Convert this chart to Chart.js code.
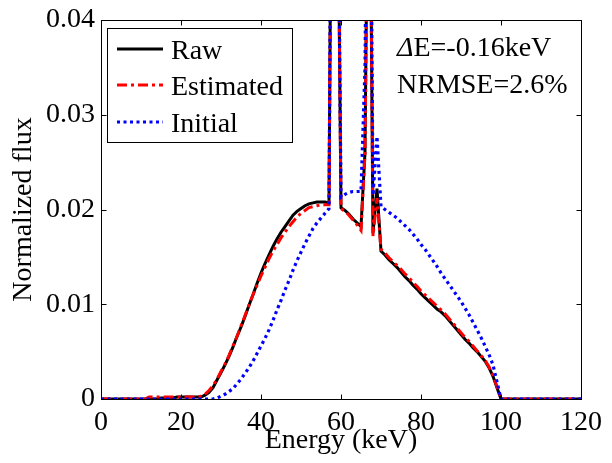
<!DOCTYPE html>
<html><head><meta charset="utf-8">
<script src="https://cdn.jsdelivr.net/npm/chart.js@4.4.1/dist/chart.umd.min.js"></script>
<style>html,body{margin:0;padding:0;background:#fff}#wrap{width:612px;height:463px;position:relative}</style>
</head><body><div id="wrap"><canvas id="c" width="612" height="463"></canvas></div>
<script>
const energies = [0,1,2,3,4,5,6,7,8,9,10,11,12,13,14,15,16,17,18,19,20,21,22,23,24,25,26,27,28,29,30,31,32,33,34,35,36,37,38,39,40,41,42,43,44,45,46,47,48,49,50,51,52,53,54,55,56,57,58,59,60,61,62,63,64,65,66,67,68,69,70,71,72,73,74,75,76,77,78,79,80,81,82,83,84,85,86,87,88,89,90,91,92,93,94,95,96,97,98,99,100,101,102,103,104,105,106,107,108,109,110,111,112,113,114,115,116,117,118,119,120];

const raw = [0,0,0,0,0,0,0,0,0,0,0,0,0,0,0,
  0.0001,0.0001,0.0001,0.0001,0.0002,0.0002,0.0002,0.0002,0.0002,0.0002,
  0.0002,0.0004,0.0007,0.0012,0.0020,0.0028,0.0036,0.0045,0.0055,0.0066,
  0.0076,0.0087,0.0099,0.0110,0.0122,0.0133,0.0143,0.0152,0.0161,0.0169,
  0.0176,0.0182,0.0188,0.0194,0.0198,0.0201,0.0204,0.0206,0.0207,0.0208,
  0.0208,0.0208,0.0207,0.085,0.065,0.0202,0.0199,0.0195,0.0190,0.0186,
  0.0182,0.026,0.07,0.0175,0.0222,0.0156,0.0152,0.0147,0.0143,0.0139,
  0.0134,0.0129,0.0125,0.0120,0.0116,0.0111,0.0107,0.0103,0.0099,0.0095,
  0.0092,0.0088,0.0083,0.0078,0.0073,0.0068,0.0063,0.0059,0.0054,0.0050,
  0.0045,0.0040,0.0033,0.0024,0.0012,
  0,0,0,0,0,0,0,0,0,0,0,0,0,0,0,0,0,0,0,0,0];

const estimated = [0,0,0,0,0,0,0,0,0,0,0,0,
  0.0002,0.0002,0.0002,0.0002,0.0002,0.0002,0.0002,0.0002,0.0002,0.0002,0.0002,0.0002,0.0002,
  0.0003,0.0005,0.0009,0.0014,0.0021,0.0029,0.0037,0.0046,0.0056,0.0066,
  0.0077,0.0088,0.0099,0.0110,0.0120,0.0130,0.0139,0.0148,0.0156,0.0163,
  0.0170,0.0176,0.0182,0.0187,0.0192,0.0196,0.0199,0.0202,0.0203,0.0204,
  0.0205,0.0205,0.0205,0.085,0.065,0.0201,0.0198,0.0194,0.0189,0.0184,
  0.0178,0.026,0.07,0.0172,0.0212,0.0158,0.0154,0.0149,0.0145,0.0141,
  0.0137,0.0132,0.0128,0.0123,0.0119,0.0114,0.0110,0.0106,0.0102,0.0098,
  0.0094,0.0090,0.0085,0.0080,0.0075,0.0070,0.0065,0.0061,0.0056,0.0051,
  0.0046,0.0041,0.0034,0.0025,0.0013,
  0,0,0,0,0,0,0,0,0,0,0,0,0,0,0,0,0,0,0,0,0];

const initial = [0,0,0,0,0,0,0,0,0,0,0,0,0,0,0,0,0,0,0,0,0,0,0,0,0,0,0,0,0,
  0.0001,0.0003,0.0005,0.0008,0.0011,0.0016,0.0021,0.0027,0.0033,0.0040,
  0.0048,0.0056,0.0064,0.0073,0.0083,0.0094,0.0104,0.0115,0.0125,0.0136,
  0.0146,0.0155,0.0164,0.0172,0.0180,0.0186,0.0191,0.0196,0.0201,0.09,
  0.07,0.0213,0.0216,0.0218,0.0219,0.0219,0.0219,0.035,0.08,0.0215,
  0.0277,0.0203,0.0200,0.0197,0.0194,0.0191,0.0187,0.0183,0.0179,0.0174,
  0.0169,0.0163,0.0158,0.0152,0.0146,0.0140,0.0133,0.0127,0.0121,0.0115,
  0.0109,0.0103,0.0096,0.0089,0.0081,0.0073,0.0065,0.0056,0.0047,0.0036,
  0.0018,
  0,0,0,0,0,0,0,0,0,0,0,0,0,0,0,0,0,0,0,0,0];

const seriesNames = ['Raw', 'Estimated', 'Initial'];
const xTickValues = [0, 20, 40, 60, 80, 100, 120];
const xTickLabels = ['0', '20', '40', '60', '80', '100', '120'];
const yTickValues = [0, 0.01, 0.02, 0.03, 0.04];
const yTickLabels = ['0', '0.01', '0.02', '0.03', '0.04'];
const xTitle = 'Energy (keV)';
const yTitle = 'Normalized flux';
const noteDelta = 'Δ';
const noteLine1 = 'E=-0.16keV';
const noteLine2 = 'NRMSE=2.6%';

const FONT = 'Liberation Serif';
const font28 = { family: FONT, size: 28, lineHeight: 1 };

function toPoints(vals) { return energies.map((e, i) => ({ x: e, y: vals[i] })); }

const styles = [
  { color: '#000000', width: 3, dash: [] },
  { color: '#ff0000', width: 3, dash: [10, 4, 3, 4] },
  { color: '#0000ff', width: 3.2, dash: [3, 3.5] }
];
const seriesData = [raw, estimated, initial];

const datasets = seriesData.map((vals, i) => ({
  label: seriesNames[i],
  data: toPoints(vals),
  borderColor: styles[i].color,
  borderWidth: styles[i].width,
  borderDash: styles[i].dash,
  borderCapStyle: 'butt',
  borderJoinStyle: 'miter',
  pointRadius: 0,
  tension: 0,
  fill: false,
  order: 3 - i
}));

const framePlugin = {
  id: 'frame',
  afterDraw(chart) {
    const ctx = chart.ctx;
    const a = chart.chartArea;
    const xs = chart.scales.x, ys = chart.scales.y;
    ctx.save();
    ctx.strokeStyle = '#000';
    ctx.lineWidth = 1;
    ctx.setLineDash([]);
    const L = Math.round(a.left) + 0.5, R = Math.round(a.right) + 0.5;
    const T = Math.round(a.top) + 0.5, B = Math.round(a.bottom) + 0.5;
    ctx.strokeRect(L, T, R - L, B - T);
    const tl = 5;
    ctx.beginPath();
    xTickValues.forEach(v => {
      const px = Math.round(xs.getPixelForValue(v)) + 0.5;
      ctx.moveTo(px, B); ctx.lineTo(px, B - tl);
      ctx.moveTo(px, T); ctx.lineTo(px, T + tl);
    });
    yTickValues.forEach(v => {
      const py = Math.round(ys.getPixelForValue(v)) + 0.5;
      ctx.moveTo(L, py); ctx.lineTo(L + tl, py);
      ctx.moveTo(R, py); ctx.lineTo(R - tl, py);
    });
    ctx.stroke();

    // legend
    ctx.fillStyle = '#fff';
    ctx.fillRect(107.5, 28.5, 185, 114);
    ctx.strokeRect(107.5, 28.5, 185, 114);
    const rows = [49, 85, 122];
    ctx.font = '28px "' + FONT + '"';
    ctx.textBaseline = 'alphabetic';
    ctx.textAlign = 'left';
    seriesNames.forEach((name, i) => {
      ctx.save();
      ctx.strokeStyle = styles[i].color;
      ctx.lineWidth = styles[i].width;
      ctx.setLineDash(styles[i].dash);
      ctx.lineCap = 'butt';
      ctx.beginPath();
      ctx.moveTo(117, rows[i]); ctx.lineTo(163, rows[i]);
      ctx.stroke();
      ctx.restore();
      ctx.fillStyle = '#000';
      ctx.fillText(name, 171, rows[i] + 10);
    });

    // annotation
    ctx.fillStyle = '#000';
    ctx.font = 'italic 28px "' + FONT + '"';
    ctx.fillText(noteDelta, 397, 56);
    const dw = ctx.measureText(noteDelta).width;
    ctx.font = '28px "' + FONT + '"';
    ctx.fillText(noteLine1, 397 + dw, 56);
    ctx.fillText(noteLine2, 397, 93);
    ctx.restore();
  }
};

new Chart(document.getElementById('c'), {
  type: 'line',
  data: { datasets },
  plugins: [framePlugin],
  options: {
    responsive: false,
    animation: false,
    events: [],
    layout: { padding: { top: 20, right: 25, left: 0, bottom: 0 } },
    plugins: { legend: { display: false }, tooltip: { enabled: false } },
    scales: {
      x: {
        type: 'linear', min: 0, max: 120,
        afterBuildTicks: s => { s.ticks = xTickValues.map(v => ({ value: v })); },
        afterFit: s => { s.height = 64; },
        ticks: { font: font28, color: '#000', padding: 10, maxRotation: 0, autoSkip: false,
                 callback: (v, i) => xTickLabels[i] },
        grid: { display: false, drawTicks: false },
        border: { display: false },
        title: { display: true, text: xTitle, font: font28, color: '#000', padding: { top: 0, bottom: 8 } }
      },
      y: {
        type: 'linear', min: 0, max: 0.04,
        afterBuildTicks: s => { s.ticks = yTickValues.map(v => ({ value: v })); },
        afterFit: s => { s.width = 101; },
        ticks: { font: font28, color: '#000', padding: 6, autoSkip: false,
                 callback: (v, i) => yTickLabels[i] },
        grid: { display: false, drawTicks: false },
        border: { display: false },
        title: { display: true, text: yTitle, font: font28, color: '#000', padding: { top: 10, bottom: 0 } }
      }
    }
  }
});
</script>
</body></html>
